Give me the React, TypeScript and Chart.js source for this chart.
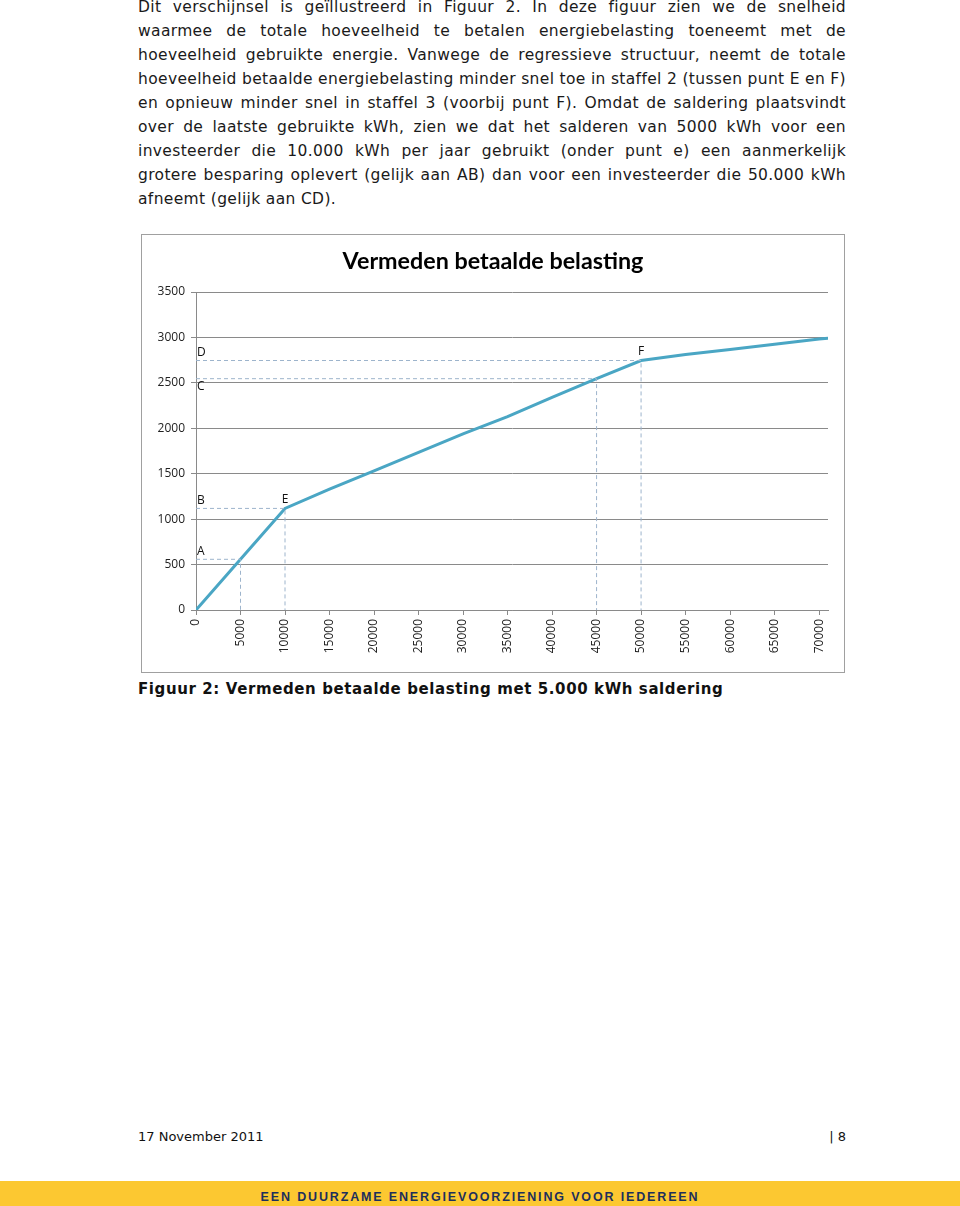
import React, { useEffect, useRef } from "react";
import { Chart, registerables } from "chart.js";

Chart.register(...registerables);

// ---- data ----
const kwh = [0, 5000, 10000, 15000, 20000, 25000, 30000, 35000, 40000, 45000, 50000, 55000, 60000, 65000, 70000, 71000];
const belasting = [0, 558, 1118, 1330, 1532, 1735, 1938, 2128, 2340, 2546, 2746, 2812, 2868, 2925, 2982, 2990];

// reference (dashed) points: A/B at 5000 & 10000, C/D at 45000 & 50000
const refKwh = [5000, 10000, 45000, 50000];
const refValue = [558, 1118, 2546, 2746];
const refAxisLabels = ["A", "B", "C", "D"];
const refPointLabels = ["", "E", "", "F"];

const xAxisMax = 71000;
const xTickValues = [0, 5000, 10000, 15000, 20000, 25000, 30000, 35000, 40000, 45000, 50000, 55000, 60000, 65000, 70000];
const yAxisMax = 3500;
const yTickStep = 500;

const chartTitle = "Vermeden betaalde belasting";

const paragraphLines = [
  "Dit verschijnsel is geïllustreerd in Figuur 2. In deze figuur zien we de snelheid",
  "waarmee de totale hoeveelheid te betalen energiebelasting toeneemt met de",
  "hoeveelheid gebruikte energie. Vanwege de regressieve structuur, neemt de totale",
  "hoeveelheid betaalde energiebelasting minder snel toe in staffel 2 (tussen punt E en F)",
  "en opnieuw minder snel in staffel 3 (voorbij punt F). Omdat de saldering plaatsvindt",
  "over de laatste gebruikte kWh, zien we dat het salderen van 5000 kWh voor een",
  "investeerder die 10.000 kWh per jaar gebruikt (onder punt e) een aanmerkelijk",
  "grotere besparing oplevert (gelijk aan AB) dan voor een investeerder die 50.000 kWh",
  "afneemt (gelijk aan CD).",
];

const caption = "Figuur 2: Vermeden betaalde belasting met 5.000 kWh saldering";
const footerDate = "17 November 2011";
const footerPage = "| 8";
const bannerText = "EEN DUURZAME ENERGIEVOORZIENING VOOR IEDEREEN";

const TICK_FONT = { family: "'Open Sans', sans-serif", size: 12 };
const GRID = "#8a8a8a";

const annotatePlugin = {
  id: "annotate",
  afterDraw(chart: any) {
    const { ctx, scales } = chart;
    const xs = scales.x;
    const ys = scales.y;
    ctx.save();
    // title
    ctx.font = "bold 23.3px Lato, 'Open Sans', sans-serif";
    ctx.fillStyle = "#000";
    ctx.textAlign = "center";
    ctx.textBaseline = "middle";
    ctx.fillText(chartTitle, chart.width / 2, 26);
    // point letters
    ctx.font = "12px 'Open Sans', sans-serif";
    ctx.fillStyle = "#111";
    const x0 = xs.getPixelForValue(0);
    refAxisLabels.forEach((lab, i) => {
      const py = ys.getPixelForValue(refValue[i]);
      const below = lab === "C";
      ctx.textAlign = "left";
      ctx.fillText(lab, x0 + 1, below ? py + 8 : py - 8);
    });
    refPointLabels.forEach((lab, i) => {
      if (!lab) return;
      const px = xs.getPixelForValue(refKwh[i]);
      const py = ys.getPixelForValue(refValue[i]);
      ctx.textAlign = "center";
      ctx.fillText(lab, px, py - 9);
    });
    ctx.restore();
  },
};

function ChartBox() {
  const ref = useRef<HTMLCanvasElement>(null);
  useEffect(() => {
    if (!ref.current) return;
    const dashed = refKwh.map((x, i) => ({
      data: [
        { x: 0, y: refValue[i] },
        { x, y: refValue[i] },
        { x, y: 0 },
      ],
      borderColor: "#9db4cc",
      borderWidth: 1,
      borderDash: [4, 3],
      pointRadius: 0,
      tension: 0,
      fill: false,
    }));
    const chart = new Chart(ref.current, {
      type: "line",
      data: {
        datasets: [
          ...dashed,
          {
            data: kwh.map((x, i) => ({ x, y: belasting[i] })),
            borderColor: "#4aa6c4",
            borderWidth: 3,
            pointRadius: 0,
            tension: 0,
            fill: false,
          },
        ],
      },
      options: {
        animation: false,
        responsive: false,
        devicePixelRatio: 1,
        layout: { padding: { top: 57, left: 0, right: 16, bottom: 0 } },
        plugins: {
          legend: { display: false },
          tooltip: { enabled: false },
          title: { display: false },
        },
        scales: {
          x: {
            type: "linear",
            min: 0,
            max: xAxisMax,
            afterBuildTicks: (s: any) => {
              s.ticks = xTickValues.map((v) => ({ value: v }));
            },
            afterFit: (s: any) => {
              s.height = 62;
            },
            ticks: {
              minRotation: 90,
              maxRotation: 90,
              autoSkip: false,
              padding: 4,
              color: "#222",
              font: TICK_FONT,
              callback: (v: any) => String(v),
            },
            grid: { drawOnChartArea: false, tickLength: 5, color: GRID },
            border: { color: GRID },
          },
          y: {
            min: 0,
            max: yAxisMax,
            afterFit: (s: any) => {
              s.width = 54;
            },
            ticks: {
              stepSize: yTickStep,
              padding: 6,
              color: "#222",
              font: TICK_FONT,
              callback: (v: any) => String(v),
            },
            grid: { color: GRID, tickLength: 5 },
            border: { color: GRID },
          },
        },
      },
      plugins: [annotatePlugin],
    } as any);
    return () => chart.destroy();
  }, []);
  return <canvas ref={ref} width={702} height={437} style={{ display: "block" }} />;
}

export default function App() {
  const textFont = "'DejaVu Sans', Verdana, sans-serif";
  return (
    <div style={{ position: "absolute", left: 0, top: 0, width: 960, height: 1206, background: "#fff", overflow: "hidden" }}>
      <div
        style={{
          position: "absolute",
          left: 138,
          top: -5,
          width: 708,
          fontFamily: textFont,
          fontSize: 15.5,
          letterSpacing: "0.35px",
          lineHeight: "24px",
          color: "#1a1a1a",
        }}
      >
        {paragraphLines.map((l, i) => {
          const last = i === paragraphLines.length - 1;
          return (
            <div
              key={i}
              style={{
                textAlign: "justify",
                textAlignLast: last ? "left" : "justify",
                wordSpacing: last ? "0px" : "-2px",
              }}
            >
              {l}
            </div>
          );
        })}
      </div>
      <div
        style={{
          position: "absolute",
          left: 141,
          top: 234,
          width: 702,
          height: 437,
          border: "1px solid #a0a0a0",
        }}
      >
        <ChartBox />
      </div>
      <div
        style={{
          position: "absolute",
          left: 138,
          top: 677,
          fontFamily: textFont,
          fontWeight: "bold",
          fontSize: 15,
          letterSpacing: "0.6px",
          lineHeight: "24px",
          color: "#111",
          whiteSpace: "nowrap",
        }}
      >
        {caption}
      </div>
      <div
        style={{
          position: "absolute",
          left: 138,
          top: 1125,
          fontFamily: textFont,
          fontSize: 13,
          lineHeight: "24px",
          color: "#111",
          whiteSpace: "nowrap",
        }}
      >
        {footerDate}
      </div>
      <div
        style={{
          position: "absolute",
          right: 114,
          top: 1125,
          fontFamily: textFont,
          fontSize: 13,
          lineHeight: "24px",
          color: "#111",
          whiteSpace: "nowrap",
        }}
      >
        {footerPage}
      </div>
      <div
        style={{
          position: "absolute",
          left: 0,
          top: 1181,
          width: 960,
          height: 25,
          background: "#fcc831",
          textAlign: "center",
          fontFamily: "'Liberation Sans', Arial, sans-serif",
          fontWeight: "bold",
          fontSize: 12.5,
          letterSpacing: "1.85px",
          lineHeight: "32px",
          color: "#1d2f5c",
          whiteSpace: "nowrap",
        }}
      >
        {bannerText}
      </div>
    </div>
  );
}
